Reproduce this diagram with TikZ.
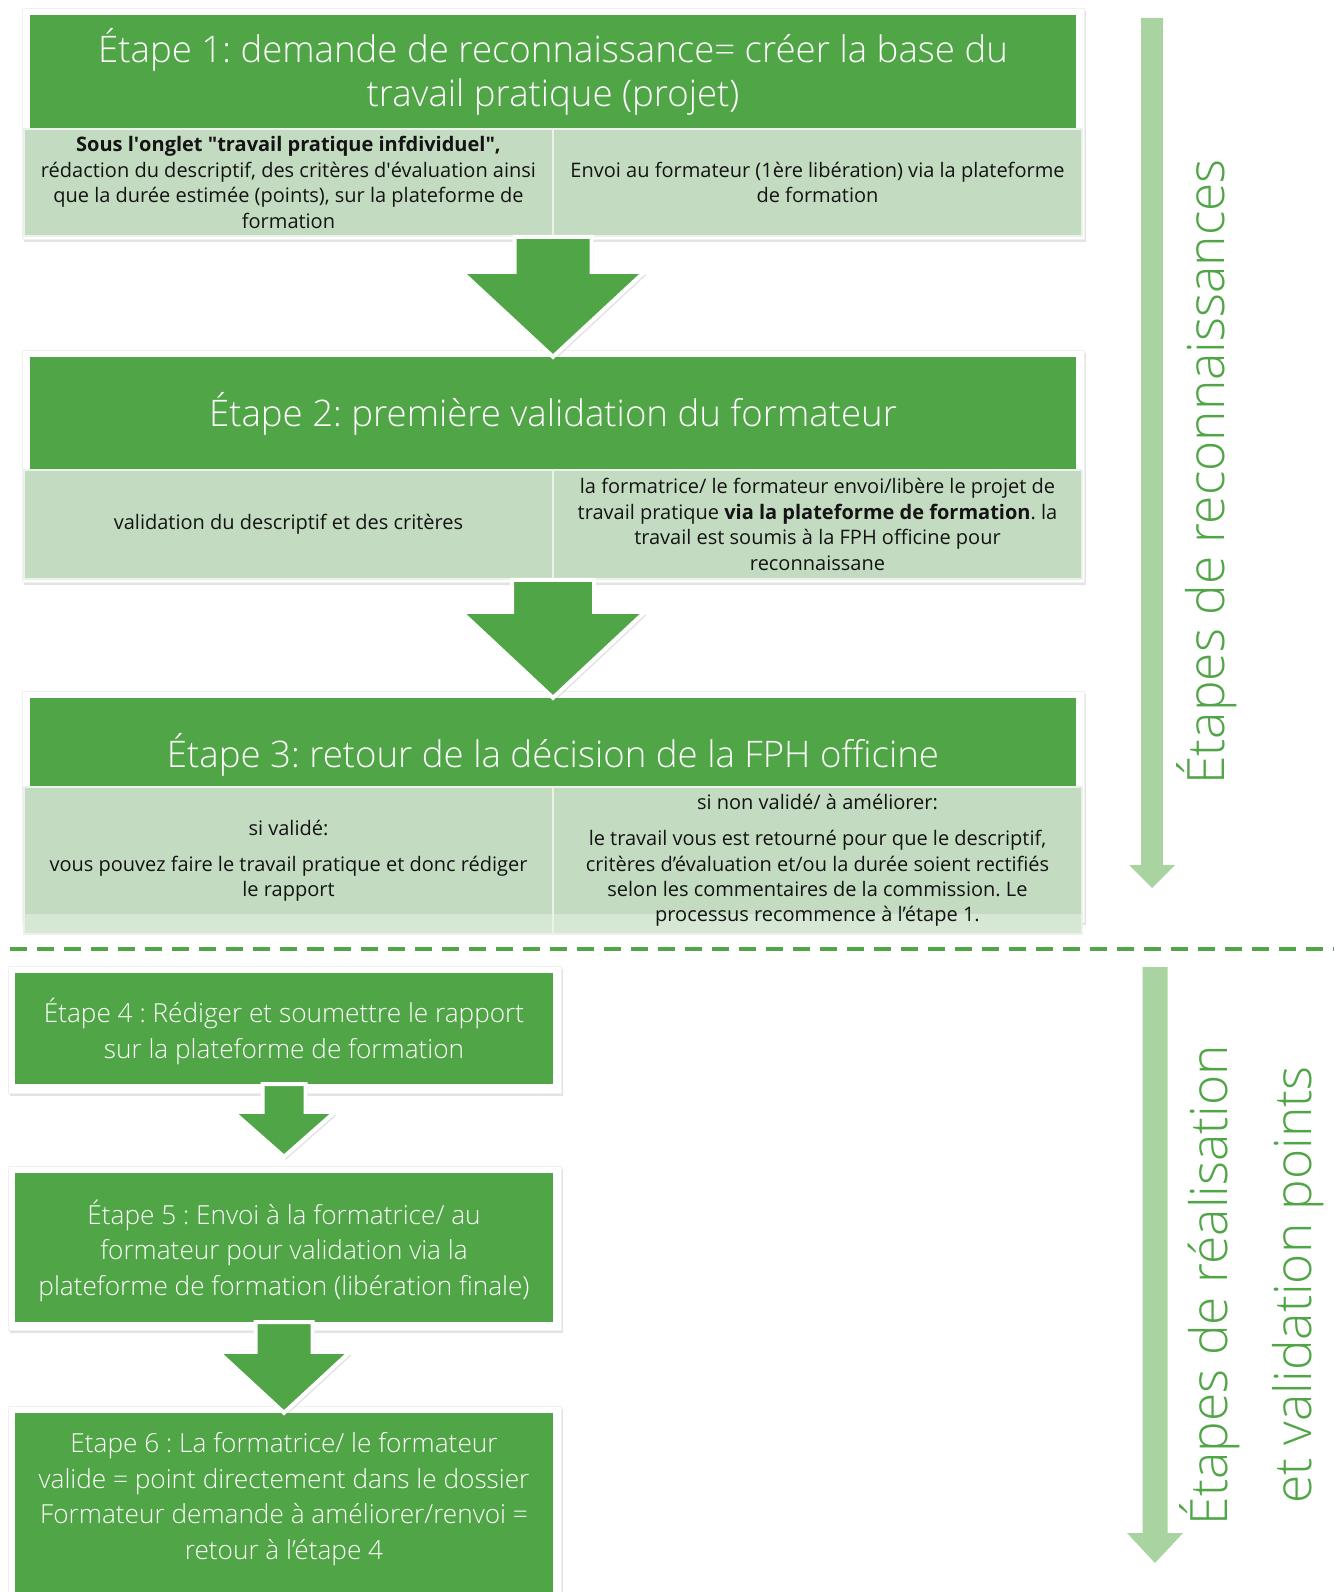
\documentclass[tikz,border=0pt]{standalone}
\usepackage{fontspec}
\setmainfont{Open Sans}
\IfFontExistsTF{Open Sans Light}
  {\newfontfamily\lightfam{Open Sans Light}}
  {\newfontfamily\lightfam{Open Sans}}
\usetikzlibrary{shadows,calc}
\definecolor{hgreen}{HTML}{50A546}
\definecolor{cellc}{HTML}{C3DBC0}
\definecolor{bandc}{HTML}{D6E7D3}
\definecolor{arrlight}{HTML}{A9D3A1}
\newcommand\titlefont{\lightfam\fontsize{36.6}{44.7}\selectfont}
\newcommand\cellfont{\fontsize{20}{25.4}\selectfont}
\newcommand\lowerfont{\lightfam\fontsize{26.2}{35.5}\selectfont}
\newcommand\sidefont{\lightfam\fontsize{51.5}{84}\selectfont}
\newcommand\blockarr[6]{% from, to, shaft half, head half, head height, style
  \path let \p1=(#1), \p2=(#2) in [#6]
    (\x2-#3pt,\y1) -- (\x2+#3pt,\y1) -- (\x2+#3pt,\y2+#5pt) -- (\x2+#4pt,\y2+#5pt)
    -- (\x2,\y2) -- (\x2-#4pt,\y2+#5pt) -- (\x2-#3pt,\y2+#5pt) -- cycle;}
\tikzset{
  frame/.style={fill=white, draw=black!6, line width=0.6pt, inner sep=0pt,
    drop shadow={shadow xshift=2pt, shadow yshift=-3pt, opacity=0.22}},
  hdr/.style={fill=hgreen, text=white, inner sep=0pt, align=center, font=\titlefont},
  cell/.style={fill=cellc, draw=white!65!cellc, line width=1.5pt, inner sep=0pt,
    align=center, font=\cellfont, text=black!92},
  cellband/.style={cell, fill=bandc, path picture={\fill[cellc]
    (path picture bounding box.north west) rectangle ([yshift=20pt]path picture bounding box.south east);}},
  lowerbox/.style={fill=hgreen, inner sep=0pt},
  lowertext/.style={text=white, inner sep=0pt, align=center, font=\lowerfont, yshift=-3pt},
  barr/.style={fill=hgreen, draw=white, line width=4pt, line join=miter,
    drop shadow={shadow xshift=2pt, shadow yshift=-3pt, opacity=0.22}},
  sidearr/.style={fill=arrlight},
  sidetext/.style={text=hgreen, font=\sidefont, align=center, inner sep=0pt, rotate=90},
}
\frenchspacing
\begin{document}
\begin{tikzpicture}[x=1pt,y=-1pt]
\fill[white] (0,0) rectangle (1334,1592);
\useasboundingbox (0,0) rectangle (1334,1592);

% ---------- Step 1
\node[frame, minimum width=1062pt, minimum height=231pt] (f1) at (553,123.5) {};
\node[hdr, minimum width=1046pt, minimum height=114pt] (h1) at (553,72)
  {Étape 1: demande de reconnaissance= créer la base du\\travail pratique (projet)};
\node[cell, minimum width=529pt, minimum height=107pt] (c1l) at (288.5,182.5)
  {\textbf{Sous l\textquotesingle onglet \textquotedbl travail pratique infdividuel\textquotedbl,}\\rédaction du descriptif, des critères d\textquotesingle évaluation ainsi\\que la durée estimée (points), sur la plateforme de\\formation};
\node[cell, minimum width=529pt, minimum height=107pt] (c1r) at (817.5,182.5)
  {Envoi au formateur (1ère libération) via la plateforme\\de formation};

% ---------- Step 2
\node[frame, minimum width=1062pt, minimum height=232pt] (f2) at (553,466) {};
\node[hdr, minimum width=1046pt, minimum height=113pt] (h2) at (553,413.5)
  {Étape 2: première validation du formateur};
\node[cell, minimum width=529pt, minimum height=109pt] (c2l) at (288.5,524.5)
  {validation du descriptif et des critères};
\node[cell, minimum width=529pt, minimum height=109pt] (c2r) at (817.5,524.5)
  {la formatrice/ le formateur envoi/libère le projet de\\travail pratique \textbf{via la plateforme de formation}. la\\travail est soumis à la FPH officine pour\\reconnaissane};

% ---------- Step 3
\node[frame, minimum width=1062pt, minimum height=231pt] (f3) at (553,806.5) {};
\node[hdr, minimum width=1046pt, minimum height=113pt] (h3) at (553,754.5)
  {Étape 3: retour de la décision de la FPH officine};
\node[cellband, minimum width=529pt, minimum height=147pt] (c3l) at (288.5,860.5)
  {si validé:\\[10.6pt]vous pouvez faire le travail pratique et donc rédiger\\le rapport};
\node[cellband, minimum width=529pt, minimum height=147pt] (c3r) at (817.5,860.5)
  {si non validé/ à améliorer:\\[10.6pt]le travail vous est retourné pour que le descriptif,\\critères d’évaluation et/ou la durée soient rectifiés\\selon les commentaires de la commission. Le\\processus recommence à l’étape 1.};

% arrows between upper steps
\blockarr{c1l.south east}{h2.north}{38.5}{91.5}{85}{barr}
\blockarr{c2l.south east}{h3.north}{41}{92}{86}{barr}

% ---------- dashed separator
\coordinate (dl) at (10,949);
\coordinate (dr) at (1334,949);
\draw[hgreen, line width=3.5pt, dash pattern=on 17pt off 10pt] (dl) -- (dr);

% ---------- Lower steps
\node[frame, minimum width=553pt, minimum height=127pt] (f4) at (284.5,1029.5) {};
\node[lowerbox, minimum width=538pt, minimum height=111pt,
  label={[lowertext]center:{Étape 4 : Rédiger et soumettre le rapport\\sur la plateforme de formation}}]
  (s4) at (284,1028.5) {};
\node[frame, minimum width=553pt, minimum height=164pt] (f5) at (284.5,1248) {};
\node[lowerbox, minimum width=538pt, minimum height=149pt,
  label={[lowertext]center:{Étape 5 : Envoi à la formatrice/ au\\formateur pour validation via la\\plateforme de formation (libération finale)}}]
  (s5) at (284,1247.5) {};
\node[frame, minimum width=553pt, minimum height=194pt] (f6) at (284.5,1503) {};
\fill[hgreen] (15,1570) rectangle (553,1600);
\node[lowerbox, minimum width=538pt, minimum height=166pt,
  label={[lowertext]center:{Etape 6 : La formatrice/ le formateur\\valide = point directement dans le dossier\\Formateur demande à améliorer/renvoi =\\retour à l’étape 4}}]
  (s6) at (284,1496) {};

\coordinate (t5) at ($(s5.north)+(0,-16)$);
\blockarr{s4.south}{t5}{21.5}{51}{45}{barr}
\blockarr{s5.south}{s6.north}{28.5}{66}{61}{barr}

% ---------- side arrows and labels
\coordinate (ra1) at (1152,18);
\coordinate (ra2) at (1152,888);
\blockarr{ra1}{ra2}{11}{23}{23}{sidearr}
\coordinate (rb1) at (1155,967);
\coordinate (rb2) at (1155,1563);
\blockarr{rb1}{rb2}{12.5}{28}{30}{sidearr}

\node[sidetext, anchor=base] (la) at (1224,472) {Étapes de reconnaissances};
\node[sidetext] (lb) at (1252,1285) {Étapes de réalisation\\et validation points};
\end{tikzpicture}
\end{document}
